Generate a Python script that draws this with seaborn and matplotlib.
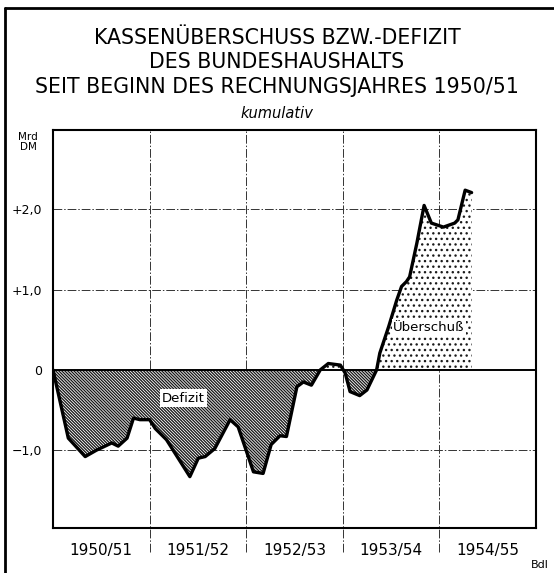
import matplotlib

matplotlib.use("Agg")

import matplotlib.pyplot as plt
import matplotlib.transforms as mtrans
from matplotlib.lines import Line2D
import numpy as np
import seaborn as sns

# months since start of fiscal year 1950/51 (April 1950 = 0), cumulative Mrd DM
months = [0.0, 1.9, 4.0, 5.4, 7.3, 8.1, 9.2, 10.0, 10.8, 12.0, 12.7, 14.1, 17.0,
          18.05, 18.9, 20.1, 22.0, 23.0, 24.9, 26.1, 27.1, 28.2, 29.0, 30.3, 31.1,
          32.1, 33.2, 34.2, 35.7, 36.3, 36.9, 38.1, 39.0, 40.2, 40.6, 41.7, 42.7,
          43.3, 43.9, 44.3, 45.2, 46.1, 47.0, 48.5, 49.9, 50.3, 51.2, 52.0]
values = [0.0, -0.85, -1.08, -1.00, -0.91, -0.95, -0.85, -0.60, -0.62, -0.62, -0.73,
          -0.87, -1.33, -1.10, -1.08, -0.98, -0.62, -0.71, -1.27, -1.29, -0.93, -0.82,
          -0.83, -0.21, -0.15, -0.19, 0.0, 0.08, 0.06, -0.04, -0.27, -0.32, -0.25, 0.0,
          0.21, 0.54, 0.87, 1.04, 1.10, 1.16, 1.58, 2.05, 1.83, 1.78, 1.83, 1.87, 2.24, 2.21]

y_ticks = [-1.0, 0.0, 1.0, 2.0]
y_tick_labels = ["\u22121,0", "0", "+1,0", "+2,0"]
year_starts = [12, 24, 36, 48]
year_centers = [6, 18, 30, 42, 54]
year_labels = ["1950/51", "1951/52", "1952/53", "1953/54", "1954/55"]
title_lines = ["KASSENÜBERSCHUSS BZW.-DEFIZIT", "DES BUNDESHAUSHALTS",
               "SEIT BEGINN DES RECHNUNGSJAHRES 1950/51"]

sns.set_style("white")
plt.rcParams["font.family"] = ["DejaVu Sans"]
plt.rcParams["hatch.linewidth"] = 0.95
for key in ["text.color", "axes.labelcolor", "xtick.color", "ytick.color"]:
    plt.rcParams[key] = "black"

W, H = 554, 573
fig = plt.figure(figsize=(W / 100, H / 100), dpi=100)
fig.patch.set_facecolor("white")
ax = fig.add_axes([53 / W, 45 / H, 483 / W, 398 / H])
ax.set_facecolor("white")

x = np.array(months)
y = np.array(values)

grid_style = dict(color="#333333", lw=0.7, ls=(0, (9, 2, 1.5, 2)), zorder=1)
for v in [-1.0, 1.0, 2.0]:
    ax.axhline(v, **grid_style)
for m in year_starts:
    ax.axvline(m, ymin=-0.06, ymax=1, clip_on=False, **grid_style)

ax.fill_between(x, y, 0, where=y <= 0, interpolate=True, facecolor="white",
                edgecolor="#1a1a1a", hatch="\\" * 11, linewidth=0, zorder=2)
ax.fill_between(x, y, 0, where=y >= 0, interpolate=True, facecolor="white",
                edgecolor="#1a1a1a", hatch="...", linewidth=0, zorder=2)
ax.axhline(0, color="black", lw=1.4, zorder=3)
sns.lineplot(x=x, y=y, ax=ax, color="black", lw=2.4, sort=False, estimator=None, zorder=4)

ax.set_xlim(0, 60)
ax.set_ylim(-1.97, 2.99)
ax.set_xlabel("")
ax.set_ylabel("")
for side in ["left", "bottom", "top", "right"]:
    ax.spines[side].set_visible(True)
    ax.spines[side].set_color("black")
    ax.spines[side].set_linewidth(1.5)

ax.set_yticks(y_ticks)
ax.set_yticklabels(y_tick_labels)
ax.tick_params(axis="y", direction="out", length=6, width=1, labelsize=9, pad=2)
ax.set_xticks(range(0, 61, 3))
ax.set_xticklabels([])
ax.set_xticks(range(0, 61), minor=True)
ax.tick_params(axis="x", which="major", direction="inout", length=12, width=1)
ax.tick_params(axis="x", which="minor", direction="inout", length=6, width=0.9)

blend = mtrans.blended_transform_factory(ax.transData, ax.transAxes)
for m, lab in zip(year_centers, year_labels):
    ax.text(m, -0.057, lab, transform=blend, ha="center", va="center", fontsize=11)

ax.text(16.2, -0.35, "Defizit", ha="center", va="center", fontsize=9.5, zorder=5,
        bbox=dict(facecolor="white", edgecolor="none", pad=1.5))
ax.text(46.7, 0.53, "Überschuß", ha="center", va="center", fontsize=9.5, zorder=5,
        bbox=dict(facecolor="white", edgecolor="none", pad=1.0))

for yy, line in zip([38, 62, 87], title_lines):
    fig.text(0.5, 1 - yy / H, line, ha="center", va="center", fontsize=14.8)
fig.text(0.5, 1 - 113 / H, "kumulativ", ha="center", va="center", fontsize=10.5, style="italic")
fig.text(28 / W, 1 - 142 / H, "Mrd\nDM", ha="center", va="center", fontsize=7.5, linespacing=1.0)
fig.text(540 / W, 1 - 565 / H, "Bdl", ha="center", va="center", fontsize=8)

fig.add_artist(Line2D([5 / W, 5 / W], [0, 1 - 8 / H], transform=fig.transFigure, color="black", lw=2))
fig.add_artist(Line2D([5 / W, 1], [1 - 8 / H, 1 - 8 / H], transform=fig.transFigure, color="black", lw=2))

fig.savefig("out.png", dpi=100, facecolor="white")
